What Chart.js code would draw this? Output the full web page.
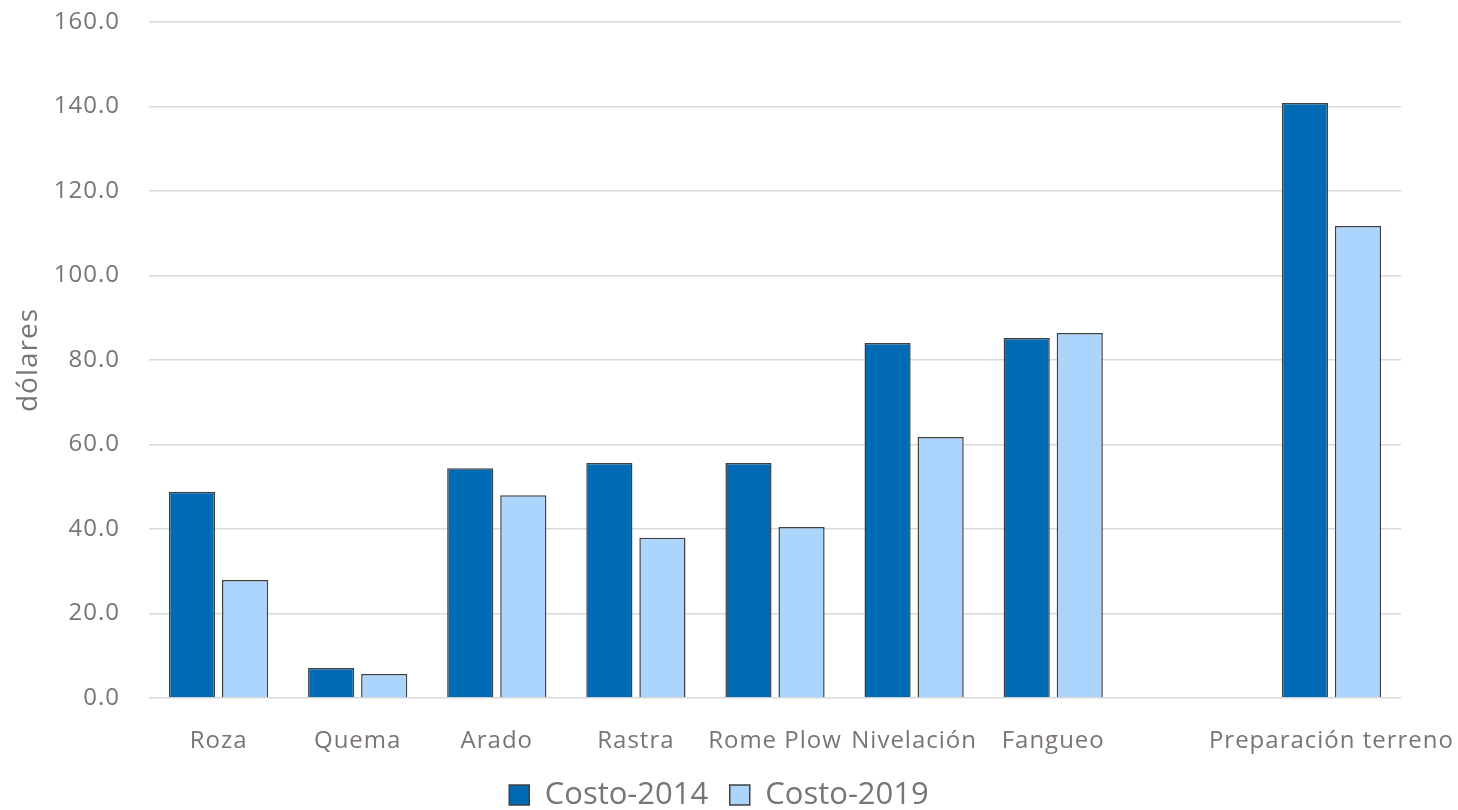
<!DOCTYPE html>
<html><head><meta charset="utf-8">
<script src="https://cdn.jsdelivr.net/npm/chart.js@4"></script>
<style>html,body{margin:0;padding:0;background:#fff}#wrap{width:1458px;height:810px}</style>
</head>
<body><div id="wrap"><canvas id="c" width="1458" height="810"></canvas></div>
<script>
const categories = ["Roza", "Quema", "Arado", "Rastra", "Rome Plow", "Nivelación", "Fangueo", "", "Preparación terreno"];
const costo2014 = [48.8, 7.1, 54.4, 55.6, 55.6, 84.0, 85.2, null, 140.8];
const costo2019 = [27.9, 5.7, 48.0, 37.9, 40.5, 61.8, 86.4, null, 111.7];
const seriesNames = ["Costo-2014", "Costo-2019"];
const yTitle = "dólares";

const FONT = "'Open Sans', 'Liberation Sans', sans-serif";
const GRAY = "#7b7474";

const spacing = {
  id: 'spacing',
  beforeInit(chart) { chart.ctx.letterSpacing = '1px'; },
  beforeUpdate(chart) { chart.ctx.letterSpacing = '1px'; },
  beforeDraw(chart) { chart.ctx.letterSpacing = '1px'; }
};

const chart = new Chart(document.getElementById('c'), {
  type: 'bar',
  plugins: [spacing],
  data: {
    labels: categories,
    datasets: [
      { label: seriesNames[0], data: costo2014, backgroundColor: '#006bb4', borderColor: '#404040', borderWidth: 1.5,
        categoryPercentage: 0.763, barPercentage: 0.87 },
      { label: seriesNames[1], data: costo2019, backgroundColor: '#acd5fd', borderColor: '#404040', borderWidth: 1.5,
        categoryPercentage: 0.763, barPercentage: 0.87 }
    ]
  },
  options: {
    responsive: false,
    devicePixelRatio: 1,
    animation: false,
    layout: { padding: { left: 0, right: 0, top: 22, bottom: -10.5 } },
    plugins: {
      legend: {
        position: 'bottom',
        labels: {
          color: GRAY, font: { family: FONT, size: 31 },
          boxWidth: 20, boxHeight: 20, padding: 21.5,
          generateLabels(chart) {
            return chart.data.datasets.map((d, i) => ({
              text: d.label, fillStyle: d.backgroundColor, strokeStyle: '#404040', lineWidth: 1.5,
              fontColor: GRAY, datasetIndex: i, hidden: false
            }));
          }
        }
      },
      tooltip: { enabled: false }
    },
    scales: {
      x: {
        grid: { display: false },
        border: { display: false },
        ticks: { color: GRAY, font: { family: FONT, size: 24 }, padding: 21, maxRotation: 0, autoSkip: false },
        afterFit(s) { s.height = 60; s.paddingLeft = 0; s.paddingRight = 57; }
      },
      y: {
        min: 0, max: 160,
        ticks: { stepSize: 20, color: GRAY, font: { family: FONT, size: 24 }, padding: 29,
          callback: v => v.toFixed(1) },
        grid: { color: '#d9d9d9', lineWidth: 1.5, drawTicks: false },
        border: { display: false },
        title: { display: true, text: yTitle, color: GRAY, font: { family: FONT, size: 28 }, padding: { top: 12, bottom: 0 } },
        afterFit(s) { s.width = 149; s.paddingTop = 0; s.paddingBottom = 0; }
      }
    }
  }
});
const origLegendDraw = chart.legend.draw.bind(chart.legend);
chart.legend.draw = function () {
  const ctx = chart.ctx;
  const prev = ctx.letterSpacing;
  ctx.letterSpacing = '0px';
  origLegendDraw();
  ctx.letterSpacing = prev;
};
chart.draw();
</script>
</body></html>
